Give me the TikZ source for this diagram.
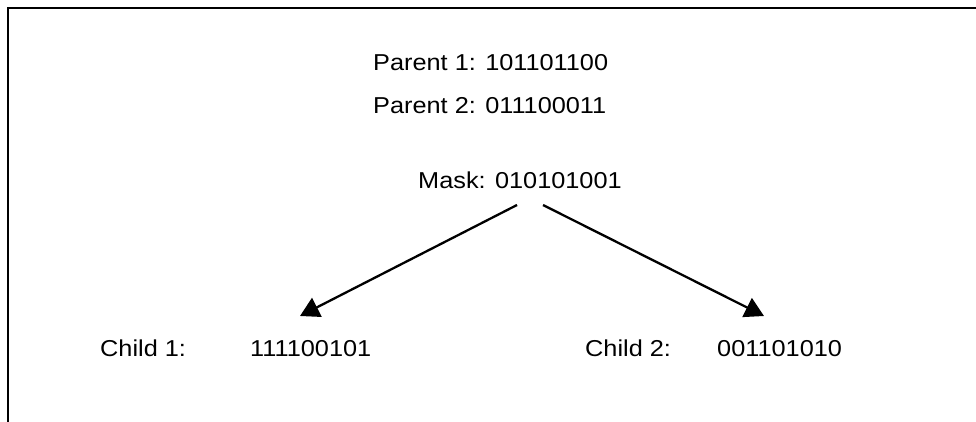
\documentclass[tikz,border=0pt]{standalone}
\usepackage{fontspec}
\setmainfont{Liberation Sans}
\usetikzlibrary{arrows.meta}
\tikzset{
  lbl/.style={inner sep=0pt, anchor=base west, xscale=1.1, transform shape,
              font=\fontsize{23}{27}\selectfont},
  conn/.style={line width=2.3pt, -{Triangle[length=19pt,width=21pt]}},
  frame/.style={line width=1.8pt}
}
\begin{document}
\begin{tikzpicture}[x=1pt,y=-1pt]
  \useasboundingbox (0,0) rectangle (976,422);
  % open frame: top and left edges only
  \draw[frame] (976,8) -- (8,8) -- (8,422);

  % parents and mask
  \node[lbl] (p1)   at (373,71)  {Parent 1: 101101100};
  \node[lbl] (p2)   at (373,114) {Parent 2: 011100011};
  \node[lbl] (mask) at (418,189) {Mask: 010101001};

  % children
  \node[lbl] (c1l) at (100,356) {Child 1:};
  \node[lbl] (c1)  at (250,356) {111100101};
  \node[lbl] (c2l) at (585,356) {Child 2:};
  \node[lbl] (c2)  at (717,356) {001101010};

  % arrow ends
  \coordinate (s1) at (517,205);
  \coordinate (s2) at (543,205);
  \coordinate (e1) at (300,316);
  \coordinate (e2) at (764,316);

  \draw[conn] (s1) -- (e1);
  \draw[conn] (s2) -- (e2);
\end{tikzpicture}
\end{document}
